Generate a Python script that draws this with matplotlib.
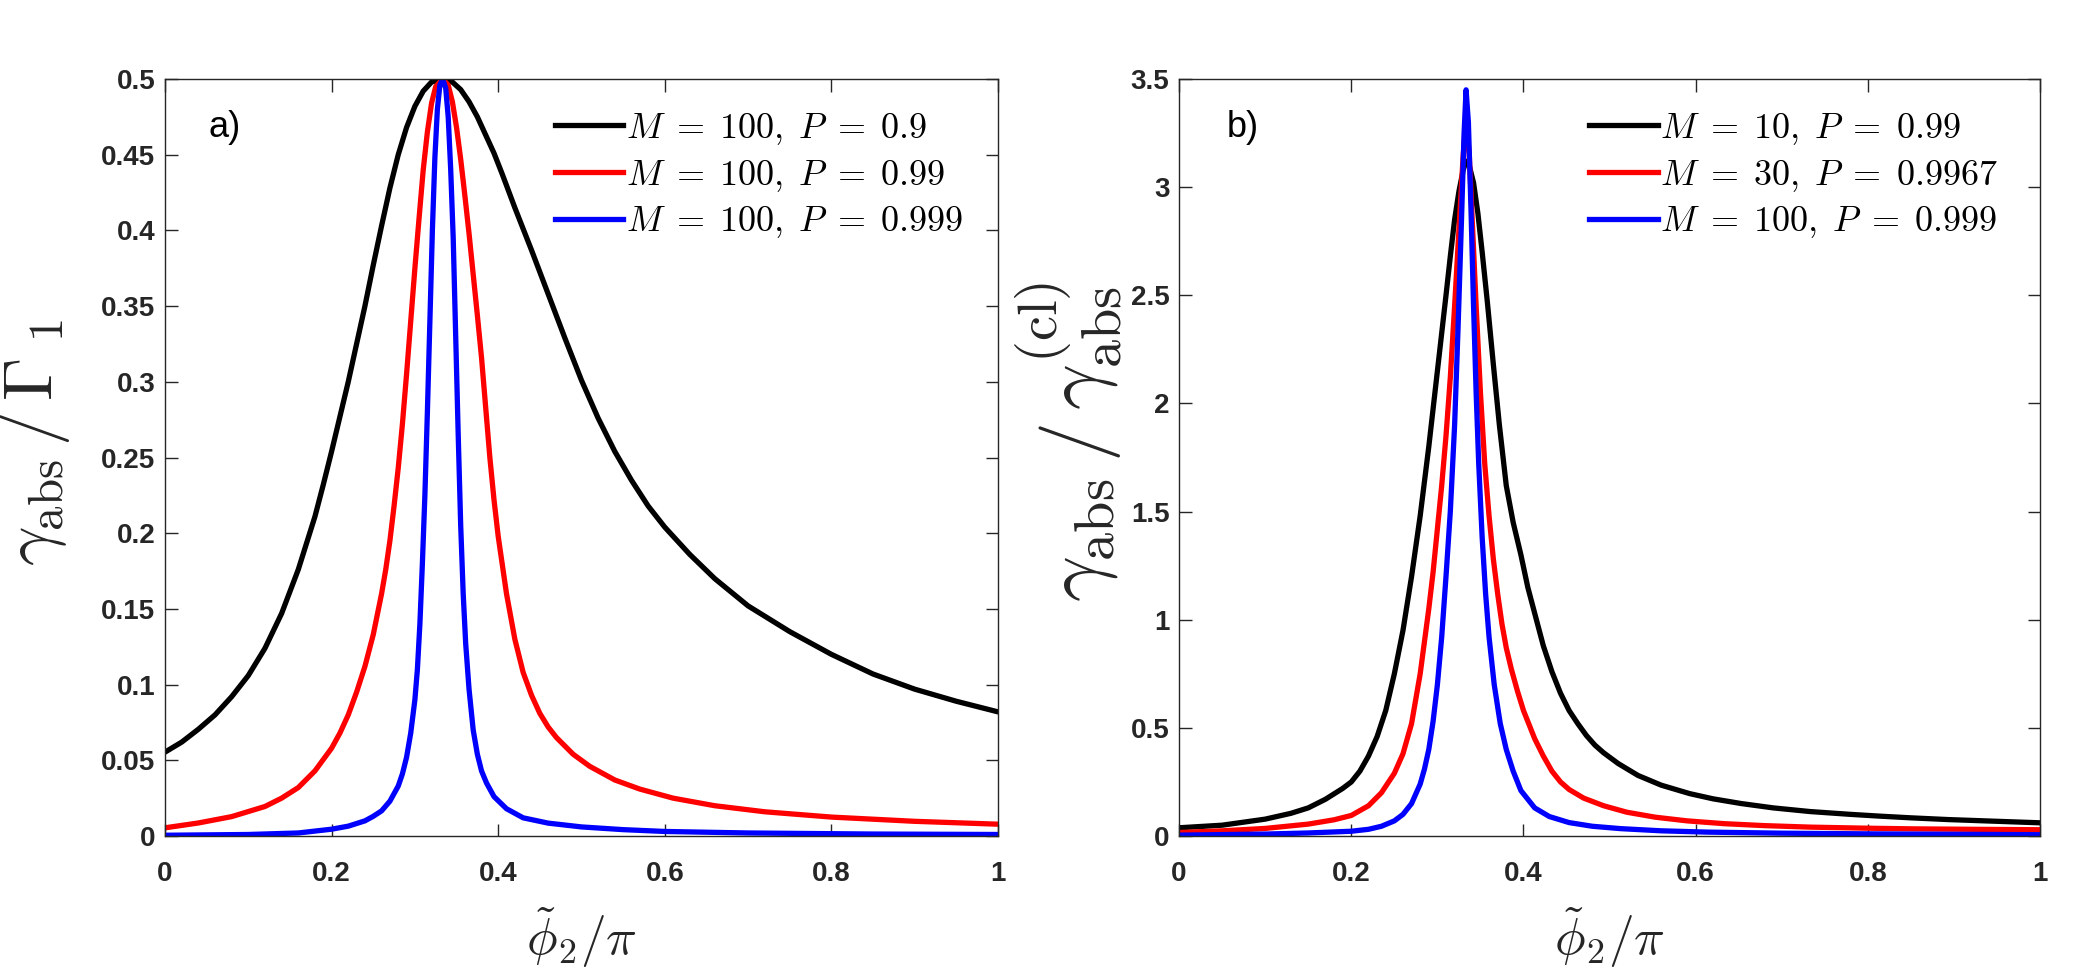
import numpy as np
import matplotlib
matplotlib.use('Agg')
import matplotlib.pyplot as plt
from matplotlib.ticker import FuncFormatter, MultipleLocator

plt.rcParams['font.family'] = ['Liberation Sans', 'DejaVu Sans']
plt.rcParams['font.weight'] = 'bold'
plt.rcParams['mathtext.fontset'] = 'cm'

# ---- panel a) : gamma_abs / Gamma_1, M = 100 ----
a_k_x = [0, 0.02, 0.04, 0.06, 0.08, 0.10, 0.12, 0.14, 0.16, 0.18, 0.19, 0.20, 0.21, 0.22, 0.23,
         0.24, 0.25, 0.26, 0.27, 0.28, 0.29, 0.30, 0.31, 0.32, 0.3333, 0.345, 0.355, 0.365,
         0.375, 0.385, 0.395, 0.405, 0.42, 0.44, 0.46, 0.48, 0.50, 0.52, 0.54, 0.56, 0.58,
         0.60, 0.63, 0.66, 0.70, 0.75, 0.80, 0.85, 0.90, 0.95, 1.0]
a_k_y = [0.0554, 0.062, 0.0705, 0.080, 0.092, 0.106, 0.124, 0.147, 0.176, 0.211, 0.232, 0.254,
         0.277, 0.300, 0.325, 0.350, 0.377, 0.403, 0.428, 0.450, 0.468, 0.482, 0.492, 0.498,
         0.500, 0.498, 0.493, 0.485, 0.475, 0.463, 0.451, 0.437, 0.415, 0.387, 0.358, 0.329,
         0.301, 0.276, 0.254, 0.235, 0.218, 0.204, 0.186, 0.170, 0.152, 0.135, 0.120, 0.107,
         0.097, 0.089, 0.082]

a_r_x = [0, 0.04, 0.08, 0.12, 0.14, 0.16, 0.18, 0.20, 0.21, 0.22, 0.23, 0.24, 0.25, 0.26, 0.265,
         0.27, 0.275, 0.28, 0.285, 0.29, 0.295, 0.30, 0.305, 0.31, 0.315, 0.32, 0.325, 0.3333,
         0.34, 0.345, 0.35, 0.355, 0.36, 0.365, 0.37, 0.375, 0.38, 0.385, 0.39, 0.395, 0.40,
         0.41, 0.42, 0.43, 0.44, 0.45, 0.46, 0.47, 0.49, 0.51, 0.54, 0.57, 0.61, 0.66, 0.72,
         0.80, 0.90, 1.0]
a_r_y = [0.0054, 0.0086, 0.0128, 0.0195, 0.025, 0.032, 0.043, 0.058, 0.068, 0.080, 0.095, 0.112,
         0.133, 0.160, 0.176, 0.195, 0.218, 0.243, 0.272, 0.305, 0.340, 0.375, 0.408, 0.440,
         0.465, 0.484, 0.495, 0.500, 0.496, 0.485, 0.468, 0.447, 0.423, 0.398, 0.371, 0.344,
         0.316, 0.283, 0.250, 0.222, 0.198, 0.160, 0.130, 0.108, 0.093, 0.081, 0.072, 0.065,
         0.054, 0.046, 0.037, 0.031, 0.025, 0.020, 0.016, 0.0125, 0.0097, 0.0078]

a_b_x = [0, 0.10, 0.16, 0.20, 0.22, 0.24, 0.25, 0.26, 0.27, 0.28, 0.285, 0.29, 0.295, 0.30, 0.303,
         0.306, 0.309, 0.312, 0.315, 0.318, 0.321, 0.324, 0.327, 0.330, 0.3333, 0.337, 0.340,
         0.343, 0.346, 0.349, 0.352, 0.355, 0.358, 0.361, 0.365, 0.37, 0.375, 0.38, 0.386,
         0.395, 0.41, 0.43, 0.46, 0.50, 0.55, 0.60, 0.70, 0.85, 1.0]
a_b_y = [0.0005, 0.001, 0.002, 0.0045, 0.0065, 0.010, 0.013, 0.0166, 0.023, 0.033, 0.041, 0.052,
         0.068, 0.090, 0.110, 0.140, 0.180, 0.225, 0.280, 0.340, 0.400, 0.448, 0.480, 0.496,
         0.500, 0.494, 0.475, 0.440, 0.395, 0.330, 0.265, 0.205, 0.160, 0.127, 0.097, 0.070,
         0.054, 0.043, 0.035, 0.026, 0.018, 0.012, 0.0085, 0.006, 0.0042, 0.003, 0.002,
         0.0013, 0.001]

a_labels = [r'$M\;=\;100,\;P\;=\;0.9$', r'$M\;=\;100,\;P\;=\;0.99$',
            r'$M\;=\;100,\;P\;=\;0.999$']

# ---- panel b) : gamma_abs / gamma_abs^(cl) ----
b_k_x = [0, 0.05, 0.1, 0.13, 0.15, 0.17, 0.19, 0.20, 0.21, 0.22, 0.23, 0.24, 0.25, 0.26, 0.27,
         0.28, 0.29, 0.30, 0.31, 0.315, 0.32, 0.325, 0.33, 0.3333, 0.337, 0.342, 0.347, 0.352,
         0.358, 0.365, 0.372, 0.38, 0.388, 0.397, 0.405, 0.413, 0.423, 0.433, 0.443, 0.453,
         0.463, 0.473, 0.483, 0.493, 0.51, 0.533, 0.56, 0.593, 0.62, 0.653, 0.69, 0.733, 0.78,
         0.813, 0.85, 0.893, 0.95, 1.0]
b_k_y = [0.038, 0.05, 0.078, 0.105, 0.13, 0.17, 0.22, 0.25, 0.30, 0.37, 0.46, 0.58, 0.75, 0.95,
         1.2, 1.48, 1.8, 2.15, 2.5, 2.68, 2.85, 2.98, 3.08, 3.12, 3.10, 3.02, 2.88, 2.70, 2.47,
         2.18, 1.9, 1.62, 1.45, 1.3, 1.15, 1.03, 0.88, 0.76, 0.66, 0.58, 0.52, 0.465, 0.42,
         0.385, 0.335, 0.28, 0.235, 0.196, 0.172, 0.15, 0.13, 0.113, 0.1, 0.092, 0.084, 0.076,
         0.068, 0.061]

b_r_x = [0, 0.05, 0.1, 0.15, 0.18, 0.2, 0.22, 0.235, 0.25, 0.26, 0.27, 0.28, 0.285, 0.29, 0.295,
         0.30, 0.305, 0.31, 0.315, 0.32, 0.325, 0.33, 0.3333, 0.337, 0.341, 0.345, 0.35, 0.355,
         0.36, 0.365, 0.37, 0.375, 0.38, 0.386, 0.393, 0.40, 0.413, 0.423, 0.433, 0.443, 0.453,
         0.47, 0.493, 0.52, 0.553, 0.59, 0.633, 0.68, 0.733, 0.8, 0.853, 0.92, 1.0]
b_r_y = [0.016, 0.024, 0.035, 0.055, 0.075, 0.095, 0.14, 0.2, 0.29, 0.38, 0.52, 0.75, 0.9, 1.05,
         1.22, 1.42, 1.62, 1.85, 2.12, 2.45, 2.8, 3.15, 3.32, 3.15, 2.8, 2.45, 2.05, 1.72, 1.48,
         1.28, 1.12, 0.98, 0.87, 0.77, 0.67, 0.58, 0.45, 0.37, 0.3, 0.25, 0.215, 0.175, 0.14,
         0.11, 0.087, 0.07, 0.057, 0.048, 0.041, 0.036, 0.033, 0.031, 0.029]

b_b_x = [0, 0.1, 0.15, 0.2, 0.22, 0.235, 0.25, 0.26, 0.27, 0.28, 0.285, 0.29, 0.295, 0.30, 0.305,
         0.31, 0.315, 0.32, 0.324, 0.328, 0.331, 0.3333, 0.336, 0.339, 0.342, 0.345, 0.348,
         0.352, 0.356, 0.36, 0.366, 0.373, 0.38, 0.388, 0.397, 0.413, 0.43, 0.453, 0.48, 0.513,
         0.56, 0.613, 0.7, 0.8, 0.9, 1.0]
b_b_y = [0.004, 0.009, 0.014, 0.022, 0.031, 0.045, 0.07, 0.1, 0.15, 0.24, 0.31, 0.4, 0.53, 0.7,
         0.92, 1.2, 1.5, 1.9, 2.35, 2.85, 3.25, 3.45, 3.3, 2.9, 2.45, 2.05, 1.72, 1.38, 1.12,
         0.92, 0.7, 0.52, 0.4, 0.3, 0.21, 0.13, 0.09, 0.062, 0.045, 0.034, 0.024, 0.018, 0.013,
         0.01, 0.008, 0.006]

b_labels = [r'$M\;=\;10,\;P\;=\;0.99$', r'$M\;=\;30,\;P\;=\;0.9967$',
            r'$M\;=\;100,\;P\;=\;0.999$']

colors = ['black', '#ff0000', '#0000ff']
axcol = '#262626'

fig = plt.figure(figsize=(20.73, 9.73), dpi=100)
ax1 = fig.add_axes([0.0796, 0.1408, 0.4018, 0.778])
ax2 = fig.add_axes([0.5688, 0.1408, 0.4153, 0.778])


def style(ax, ystep):
    ax.set_xlim(0, 1)
    ax.xaxis.set_major_locator(MultipleLocator(0.2))
    ax.yaxis.set_major_locator(MultipleLocator(ystep))
    fmt = FuncFormatter(lambda v, p: f'{v:g}')
    ax.xaxis.set_major_formatter(fmt)
    ax.yaxis.set_major_formatter(fmt)
    ax.tick_params(direction='in', length=9, width=1, top=True, right=True,
                   labelsize=20, colors=axcol)
    ax.tick_params(axis='x', pad=18)
    ax.tick_params(axis='y', pad=7)
    for s in ax.spines.values():
        s.set_color(axcol)
        s.set_linewidth(1)
    ax.set_xlabel(r'$\tilde{\phi}_2/\pi$', fontsize=37, color=axcol)
    ax.xaxis.set_label_coords(0.5, -0.092)


# panel a
for xs, ys, c, lab in zip([a_k_x, a_r_x, a_b_x], [a_k_y, a_r_y, a_b_y], colors, a_labels):
    ax1.plot(xs, ys, color=c, lw=3.8, label=lab)
style(ax1, 0.05)
ax1.set_ylim(0, 0.5)
ax1.set_ylabel(r'$\gamma_{\rm abs}\,/\,\Gamma_{\;1}$', fontsize=50, color=axcol)
ax1.yaxis.set_label_coords(-0.112, 0.52)
ax1.text(0.052, 0.936, 'a)', transform=ax1.transAxes, fontsize=26, fontweight='normal',
         va='center', color='black')
ax1.legend(loc='upper left', bbox_to_anchor=(0.446, 0.982), frameon=False, fontsize=26,
           handlelength=1.9, handletextpad=0.08, labelspacing=0.3, borderpad=0)

# panel b
for xs, ys, c, lab in zip([b_k_x, b_r_x, b_b_x], [b_k_y, b_r_y, b_b_y], colors, b_labels):
    ax2.plot(xs, ys, color=c, lw=3.8, label=lab)
style(ax2, 0.5)
ax2.set_ylim(0, 3.5)
ax2.set_ylabel(r'$\gamma_{\rm abs}\,/\,\gamma_{\rm abs}^{\rm (cl)}$', fontsize=58, color=axcol)
ax2.yaxis.set_label_coords(-0.064, 0.52)
ax2.text(0.055, 0.936, 'b)', transform=ax2.transAxes, fontsize=26, fontweight='normal',
         va='center', color='black')
ax2.legend(loc='upper left', bbox_to_anchor=(0.455, 0.982), frameon=False, fontsize=26,
           handlelength=1.9, handletextpad=0.08, labelspacing=0.3, borderpad=0)

fig.savefig('out.png', dpi=100, facecolor='white')
